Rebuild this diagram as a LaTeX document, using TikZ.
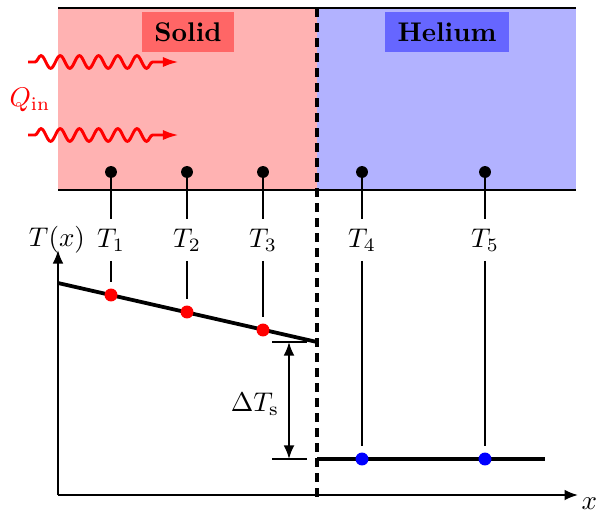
\documentclass[tikz,border=0pt]{standalone}
\usetikzlibrary{decorations.pathmorphing,arrows.meta}
\begin{document}
\begin{tikzpicture}[x=0.37pt,y=-0.37pt,
  lbox/.style={inner xsep=4.5pt, minimum height=14.5pt, font=\bfseries},
  qarrow/.style={red, line width=1.1pt, -{Latex[length=6pt,width=3.8pt]}, decorate,
    decoration={snake, amplitude=2.35pt, segment length=7.1pt, pre length=2.6pt, post length=9.6pt}},
  sdot/.style={circle, fill=black, inner sep=0pt, minimum size=4.4pt},
  rdot/.style={circle, fill=red, inner sep=0pt, minimum size=4.8pt},
  bdot/.style={circle, fill=blue, inner sep=0pt, minimum size=4.8pt},
  guide/.style={line width=0.4pt},
  boundary/.style={line width=0.75pt},
  curve/.style={line width=1.4pt},
  axis/.style={line width=0.75pt, -{Latex[length=5pt,width=4pt]}},
  ifc/.style={line width=1.25pt, dash pattern=on 3.2pt off 2.35pt}
]
\useasboundingbox (0,0) rectangle (596,512);
% regions
\fill[red!30] (58,8) rectangle (317,190);
\fill[blue!30] (317,8) rectangle (576,190);
\coordinate (tl) at (58,8); \coordinate (tr) at (576,8);
\coordinate (bl) at (58,190); \coordinate (br) at (576,190);
\draw[boundary] (tl) -- (tr);
\draw[boundary] (bl) -- (br);
\node[lbox, fill=red!60] (solid) at (188,32) {Solid};
\node[lbox, fill=blue!60] (helium) at (447,32) {Helium};
% heat input
\coordinate (w1s) at (28,62); \coordinate (w1e) at (179,62);
\coordinate (w2s) at (28,135); \coordinate (w2e) at (179,135);
\draw[qarrow] (w1s) -- (w1e);
\draw[qarrow] (w2s) -- (w2e);
\node[red] (q) at (30,100) {$Q_{\mathrm{in}}$};
% interface
\coordinate (itop) at (317,8); \coordinate (ibot) at (317,497);
\draw[ifc] (itop) -- (ibot);
% axes
\coordinate (o) at (58,495);
\coordinate (yend) at (58,250);
\coordinate (xend) at (578,495);
\draw[axis] (o) -- (yend);
\draw[axis] (o) -- (xend);
\node (ylab) at (57,240) {$T(x)$};
\node[anchor=north west, inner sep=0pt] (xlab) at (581,497) {$x$};
% profiles
\coordinate (s0) at (58,283); \coordinate (s1) at (317,342);
\coordinate (h0) at (317,459); \coordinate (h1) at (545,459);
\draw[curve] (s0) -- (s1);
\draw[curve] (h0) -- (h1);
% sensors
\foreach \i/\x in {1/111,2/187,3/263,4/362,5/485} {
  \node[sdot] (d\i) at (\x,172) {};
  \node (t\i) at (\x,240) {$T_{\i}$};
}
\node[rdot] (p1) at (111,295) {};
\node[rdot] (p2) at (187,312) {};
\node[rdot] (p3) at (263,330) {};
\node[bdot] (p4) at (362,459) {};
\node[bdot] (p5) at (485,459) {};
\foreach \i in {1,...,5} {
  \draw[guide] (d\i) -- (t\i);
  \draw[guide, shorten >=2.2pt] (t\i) -- (p\i);
}
% temperature jump
\coordinate (ja) at (272,342); \coordinate (jb) at (307,342);
\coordinate (jc) at (272,459); \coordinate (jd) at (307,459);
\draw[line width=0.75pt] (ja) -- (jb);
\draw[line width=0.75pt] (jc) -- (jd);
\coordinate (ka) at (289,342); \coordinate (kb) at (289,459);
\draw[line width=0.75pt, {Latex[length=5pt,width=4pt]}-{Latex[length=5pt,width=4pt]}] (ka) -- (kb);
\node (dt) at (255,404) {$\Delta T_{\mathrm{s}}$};
\end{tikzpicture}
\end{document}
